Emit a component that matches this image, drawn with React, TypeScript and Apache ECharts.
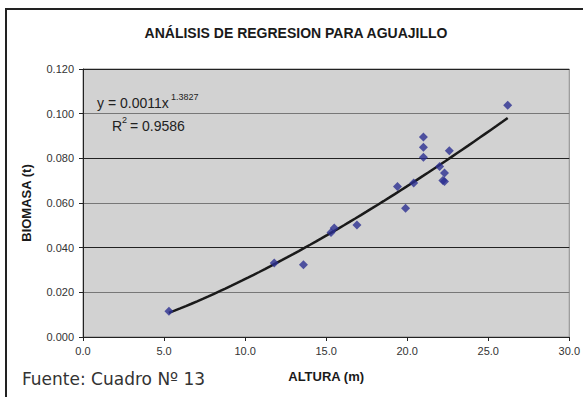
import React, { useEffect, useRef } from "react";
import * as echarts from "echarts";

const titleText = "ANÁLISIS DE REGRESION PARA AGUAJILLO";
const xAxisName = "ALTURA (m)";
const yAxisName = "BIOMASA (t)";
const sourceText = "Fuente: Cuadro Nº 13";
const equationMain = "y = 0.0011x";
const equationExp = "1.3827";
const r2Main = "R";
const r2Exp = "2";
const r2Value = " = 0.9586";

const alturas = [5.3, 11.8, 13.6, 15.3, 15.5, 16.9, 19.4, 19.9, 20.4, 21.0, 21.0, 21.0, 22.0, 22.2, 22.3, 22.3, 22.6, 26.2];
const biomasas = [0.0115, 0.0331, 0.0323, 0.0468, 0.0488, 0.0501, 0.0674, 0.0577, 0.0689, 0.0895, 0.085, 0.0805, 0.0763, 0.0701, 0.0734, 0.0696, 0.0834, 0.1038];

const xMin = 0, xMax = 30, xInterval = 5;
const yMin = 0, yMax = 0.12, yInterval = 0.02;

function powerFit(xs: number[], ys: number[]) {
  const n = xs.length;
  let sx = 0, sy = 0, sxx = 0, sxy = 0;
  for (let i = 0; i < n; i++) {
    const lx = Math.log(xs[i]);
    const ly = Math.log(ys[i]);
    sx += lx; sy += ly; sxx += lx * lx; sxy += lx * ly;
  }
  const b = (n * sxy - sx * sy) / (n * sxx - sx * sx);
  const a = Math.exp((sy - b * sx) / n);
  return { a, b };
}

export default function App() {
  const ref = useRef<HTMLDivElement>(null);
  useEffect(() => {
    if (!ref.current) return;
    const chart = echarts.init(ref.current, undefined, { renderer: "svg" });
    const { a, b } = powerFit(alturas, biomasas);
    const lo = Math.min(...alturas);
    const hi = Math.max(...alturas);
    const steps = 60;
    const trend: number[][] = [];
    for (let i = 0; i <= steps; i++) {
      const x = lo + ((hi - lo) * i) / steps;
      trend.push([x, a * Math.pow(x, b)]);
    }
    const font = "'Liberation Sans', Arial, sans-serif";
    chart.setOption({
      animation: false,
      textStyle: { fontFamily: font },
      title: {
        text: titleText,
        left: 291,
        textAlign: "center",
        top: 21,
        textStyle: { fontFamily: font, fontWeight: "bold", fontSize: 14, color: "#1a1a1a" },
      },
      grid: {
        left: 83,
        right: 12,
        top: 69,
        bottom: 60,
        show: true,
        backgroundColor: "#d2d2d2",
        borderColor: "#888888",
        borderWidth: 1,
      },
      xAxis: {
        type: "value",
        min: xMin,
        max: xMax,
        interval: xInterval,
        name: xAxisName,
        nameLocation: "middle",
        nameGap: 33,
        nameTextStyle: { fontFamily: font, fontWeight: "bold", fontSize: 13, color: "#1a1a1a" },
        axisLine: { show: true, lineStyle: { color: "#222", width: 1 } },
        axisTick: { show: true, inside: false, length: 4, lineStyle: { color: "#222" } },
        axisLabel: { formatter: (v: number) => v.toFixed(1), fontSize: 11, color: "#333", margin: 8 },
        splitLine: { show: false },
      },
      yAxis: {
        type: "value",
        min: yMin,
        max: yMax,
        interval: yInterval,
        name: yAxisName,
        nameLocation: "middle",
        nameGap: 50,
        nameRotate: 90,
        nameTextStyle: { fontFamily: font, fontWeight: "bold", fontSize: 13, color: "#1a1a1a" },
        axisLine: { show: true, lineStyle: { color: "#222", width: 1 } },
        axisTick: { show: true, inside: false, length: 4, lineStyle: { color: "#222" } },
        axisLabel: { formatter: (v: number) => v.toFixed(3), fontSize: 11, color: "#333", margin: 9 },
        splitLine: { show: true, lineStyle: { color: ["#222", "#777"], width: 1 } },
      },
      graphic: [
        {
          type: "rect",
          silent: true,
          shape: { x: 6, y: 9, width: 800, height: 600 },
          style: { fill: "none", stroke: "#222", lineWidth: 2 },
        },
        {
          type: "text",
          left: 97,
          top: 96,
          style: { text: equationMain, font: `14px ${font}`, fill: "#222" },
        },
        {
          type: "text",
          left: 171,
          top: 92,
          style: { text: equationExp, font: `9px ${font}`, fill: "#222" },
        },
        {
          type: "text",
          left: 112,
          top: 119,
          style: { text: r2Main, font: `14px ${font}`, fill: "#222" },
        },
        {
          type: "text",
          left: 122,
          top: 115,
          style: { text: r2Exp, font: `9px ${font}`, fill: "#222" },
        },
        {
          type: "text",
          left: 126,
          top: 119,
          style: { text: r2Value, font: `14px ${font}`, fill: "#222" },
        },
        {
          type: "text",
          left: 22,
          top: 370,
          style: { text: sourceText, font: `17px 'DejaVu Sans', Verdana, sans-serif`, fill: "#333" },
        },
      ],
      series: [
        {
          type: "line",
          data: trend,
          showSymbol: false,
          symbol: "none",
          smooth: false,
          lineStyle: { color: "#1a1a1a", width: 2.5 },
          z: 2,
        },
        {
          type: "scatter",
          data: alturas.map((x, i) => [x, biomasas[i]]),
          symbol: "diamond",
          symbolSize: 9,
          itemStyle: { color: "#2c3091" },
          z: 3,
        },
      ],
    });
    return () => chart.dispose();
  }, []);
  return (
    <div
      ref={ref}
      style={{ position: "fixed", left: 0, top: 0, width: 583, height: 397, background: "#fff" }}
    />
  );
}
